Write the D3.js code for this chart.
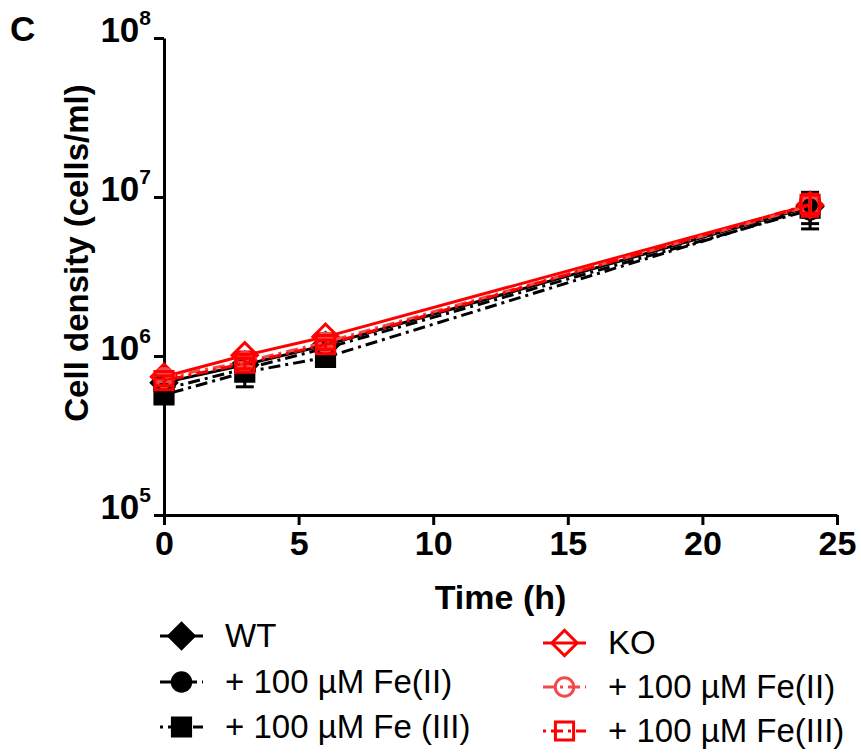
<!DOCTYPE html>
<html>
<head>
<meta charset="utf-8">
<script src="https://cdn.jsdelivr.net/npm/d3@7"></script>
<style>
  body { margin: 0; background: #fff; }
  text { font-family: "Liberation Sans", Arial, sans-serif; }
</style>
</head>
<body>
<div id="chart"></div>
<script>
// sampling times (h)
var times = [0, 3, 6, 24];

// cell density means (cells/ml)
var wt = [6.8e5, 8.8e5, 1.17e6, 8.7e6];
var wtFe2 = [6.2e5, 8.3e5, 1.12e6, 8.3e6];
var wtFe3 = [5.7e5, 7.9e5, 9.8e5, 8.5e6];
var ko = [7.4e5, 1.01e6, 1.32e6, 8.9e6];
var koFe2 = [7.3e5, 9.2e5, 1.22e6, 8.8e6];
var koFe3 = [7.0e5, 9.0e5, 1.18e6, 9.0e6];

// error bars (cells/ml)
var wtErr = [4e4, 6e4, 5e4, 1.2e6];
var wtFe2Err = [5e4, 8e4, 6e4, 1.5e6];
var wtFe3Err = [6e4, 1.5e5, 1e5, 2.2e6];
var koErr = [3e4, 5e4, 6e4, 1.0e6];
var koFe2Err = [4e4, 6e4, 7e4, 1.2e6];
var koFe3Err = [5e4, 7e4, 8e4, 1.4e6];

var xTicks = [0, 5, 10, 15, 20, 25];
var yTicks = [1e5, 1e6, 1e7, 1e8];

var seriesNames = ["WT", "+ 100 \u00b5M Fe(II)", "+ 100 \u00b5M Fe (III)",
                   "KO", "+ 100 \u00b5M Fe(II)", "+ 100 \u00b5M Fe(III)"];

var series = [
    { name: seriesNames[0], values: wt, err: wtErr, color: "#000", dash: null, shape: "diamond", open: false },
    { name: seriesNames[1], values: wtFe2, err: wtFe2Err, color: "#000", dash: "12,5,3,5", shape: "circle", open: false },
    { name: seriesNames[2], values: wtFe3, err: wtFe3Err, color: "#000", dash: "3,5,12,5", shape: "square", open: false },
    { name: seriesNames[3], values: ko, err: koErr, color: "#ff0000", dash: null, shape: "diamond", open: true },
    { name: seriesNames[4], values: koFe2, err: koFe2Err, color: "#f24a4a", dash: "12,5,3,5", shape: "circle", open: true },
    { name: seriesNames[5], values: koFe3, err: koFe3Err, color: "#ff0000", dash: "3,5,12,5", shape: "square", open: true }
];

var svg = d3.select("#chart").append("svg")
    .attr("width", 861).attr("height", 753);

var plotLeft = 164, plotRight = 837, plotTop = 38, plotBottom = 515;

var x = d3.scaleLinear().domain([0, 25]).range([plotLeft, plotRight]);
var y = d3.scaleLog().domain([1e5, 1e8]).range([plotBottom, plotTop]);

function symbolPath(shape) {
    if (shape == "diamond") return d3.symbol().type(d3.symbolSquare).size(320)();
    if (shape == "circle") return d3.symbol().type(d3.symbolCircle).size(270)();
    return d3.symbol().type(d3.symbolSquare).size(330)();
}

// panel letter
svg.append("text").attr("x", 10).attr("y", 41)
    .attr("font-size", 35).attr("font-weight", "bold").text("C");

// axes
var xAxis = svg.append("g")
    .attr("transform", "translate(0," + plotBottom + ")")
    .call(d3.axisBottom(x).tickValues(xTicks).tickSize(10).tickSizeOuter(0).tickPadding(6));
xAxis.selectAll("text").attr("font-size", 34).attr("font-weight", "bold")
    .attr("fill", "#000").attr("font-family", null);

var yAxis = svg.append("g")
    .attr("transform", "translate(" + plotLeft + ",0)")
    .call(d3.axisLeft(y).tickValues(yTicks).tickSize(10).tickSizeOuter(0).tickFormat(""));

yAxis.selectAll(".tick").append("text")
    .attr("x", -13).attr("dy", "0.36em")
    .attr("text-anchor", "end").attr("fill", "#000")
    .attr("font-weight", "bold").attr("font-family", null)
    .each(function (d) {
        var t = d3.select(this);
        t.append("tspan").attr("font-size", 35).text("10");
        t.append("tspan").attr("font-size", 21).attr("dy", "-0.8em")
            .text(Math.round(Math.log10(d)));
    });

svg.selectAll(".domain, .tick line").attr("stroke", "#000").attr("stroke-width", 3);

// axis titles
svg.append("text").attr("x", (plotLeft + plotRight) / 2).attr("y", 609)
    .attr("text-anchor", "middle").attr("font-size", 34).attr("font-weight", "bold")
    .text("Time (h)");

svg.append("text")
    .attr("transform", "translate(88,253) rotate(-90)")
    .attr("text-anchor", "middle").attr("font-size", 33).attr("font-weight", "bold")
    .text("Cell density (cells/ml)");

// series
var line = d3.line()
    .x(function (d) { return x(d.t); })
    .y(function (d) { return y(d.v); });

series.forEach(function (s) {
    var pts = times.map(function (t, i) { return { t: t, v: s.values[i], e: s.err[i] }; });
    var g = svg.append("g");

    g.append("path").datum(pts)
        .attr("d", line)
        .attr("fill", "none")
        .attr("stroke", s.color)
        .attr("stroke-width", 3)
        .attr("stroke-dasharray", s.dash);

    var eb = g.selectAll(".eb").data(pts).enter().append("g");
    eb.append("line")
        .attr("x1", function (d) { return x(d.t); })
        .attr("x2", function (d) { return x(d.t); })
        .attr("y1", function (d) { return y(d.v - d.e); })
        .attr("y2", function (d) { return y(d.v + d.e); })
        .attr("stroke", s.color).attr("stroke-width", 3);
    [-1, 1].forEach(function (sign) {
        eb.append("line")
            .attr("x1", function (d) { return x(d.t) - 9; })
            .attr("x2", function (d) { return x(d.t) + 9; })
            .attr("y1", function (d) { return y(d.v + sign * d.e); })
            .attr("y2", function (d) { return y(d.v + sign * d.e); })
            .attr("stroke", s.color).attr("stroke-width", 3);
    });

    g.selectAll(".pt").data(pts).enter().append("path")
        .attr("d", symbolPath(s.shape))
        .attr("transform", function (d) {
            return "translate(" + x(d.t) + "," + y(d.v) + ")" + (s.shape == "diamond" ? " rotate(45)" : "");
        })
        .attr("fill", s.open ? "none" : s.color)
        .attr("stroke", s.color)
        .attr("stroke-width", 3);
});

// legend
var legendPos = [
    [160, 636], [160, 682], [160, 727],
    [543, 643], [543, 687], [543, 731]
];

series.forEach(function (s, i) {
    var lx = legendPos[i][0], ly = legendPos[i][1];
    var g = svg.append("g").attr("transform", "translate(" + lx + "," + ly + ")");
    g.append("line").attr("x1", 0).attr("x2", 43).attr("y1", 0).attr("y2", 0)
        .attr("stroke", s.color).attr("stroke-width", 3)
        .attr("stroke-dasharray", s.dash);
    g.append("path")
        .attr("d", symbolPath(s.shape))
        .attr("transform", "translate(21.5,0)" + (s.shape == "diamond" ? " rotate(45)" : ""))
        .attr("fill", s.open ? "none" : s.color)
        .attr("stroke", s.color).attr("stroke-width", 3);
    g.append("text").attr("x", 65).attr("y", 11)
        .attr("font-size", 33).attr("fill", "#000")
        .text(s.name);
});
</script>
</body>
</html>
